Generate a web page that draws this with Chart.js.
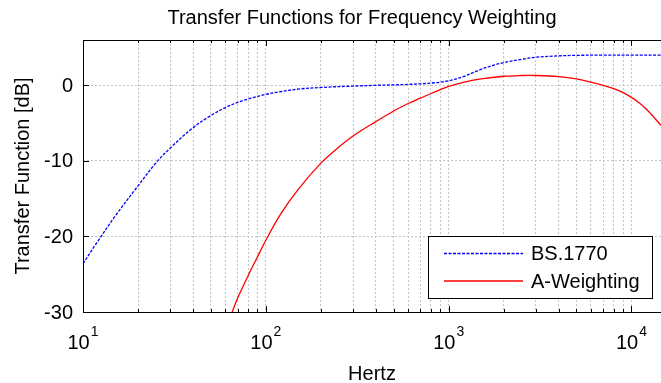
<!DOCTYPE html>
<html>
<head>
<meta charset="utf-8">
<script src="https://cdn.jsdelivr.net/npm/chart.js@4/dist/chart.umd.min.js"></script>
<style>
  html, body { margin: 0; padding: 0; background: #fff; }
  canvas { display: block; }
</style>
</head>
<body>
<canvas id="c" width="661" height="383"></canvas>
<script>
// ---- data ----
const titleText = 'Transfer Functions for Frequency Weighting';
const xAxisTitle = 'Hertz';
const yAxisTitle = 'Transfer Function [dB]';
const seriesNames = ['BS.1770', 'A-Weighting'];

const bsFreq = [10, 12, 15, 20, 25, 30, 40, 50, 60, 70, 80, 100, 120, 150, 200, 300, 400, 500, 600, 700, 800, 900, 1000, 1200, 1500, 1750, 2000, 2500, 3000, 4000, 5000, 7000, 10000, 14500];
const bsDb   = [-23.6, -20.7, -17.3, -13.3, -10.3, -8.3, -5.6, -4.0, -2.95, -2.27, -1.8, -1.2, -0.85, -0.5, -0.28, -0.1, 0.0, 0.06, 0.12, 0.2, 0.3, 0.42, 0.6, 1.15, 2.1, 2.65, 3.0, 3.45, 3.72, 3.9, 3.97, 4.0, 4.0, 4.0];

const awFreq = [60, 65.5, 70, 80, 90, 100, 120, 150, 200, 250, 300, 400, 500, 600, 700, 800, 900, 1000, 1200, 1500, 2000, 2500, 3000, 4000, 5000, 6000, 7000, 8000, 9000, 10000, 11000, 12000, 13000, 14500];
const awDb   = [-32.8, -30.0, -28.2, -25.2, -22.7, -20.5, -17.1, -13.8, -10.3, -8.2, -6.7, -4.8, -3.4, -2.4, -1.7, -1.08, -0.58, -0.15, 0.4, 0.85, 1.2, 1.3, 1.3, 1.15, 0.85, 0.42, 0.0, -0.45, -0.97, -1.6, -2.3, -3.1, -4.0, -5.3];

const xMajorTicks = [10, 100, 1000, 10000];
const xTickBase = ['10', '10', '10', '10'];
const xTickExp = ['1', '2', '3', '4'];
const xMinorTicks = [20, 30, 40, 50, 60, 70, 80, 90, 200, 300, 400, 500, 600, 700, 800, 900, 2000, 3000, 4000, 5000, 6000, 7000, 8000, 9000];
const yTicks = [-30, -20, -10, 0];
const yTickLabels = ['-30', '-20', '-10', '0'];
const xRange = [10, 14500];
const yRange = [-30, 6];

// ---- chart ----
const FONT = '"Liberation Sans", Arial, Helvetica, sans-serif';
const toPts = (xs, ys) => xs.map((x, i) => ({ x: x, y: ys[i] }));

const decor = {
  id: 'decor',
  afterDraw(chart) {
    const ctx = chart.ctx;
    const a = chart.chartArea;
    const xs = chart.scales.x, ys = chart.scales.y;
    ctx.save();
    ctx.strokeStyle = '#000';
    ctx.lineWidth = 1;
    ctx.setLineDash([]);
    ctx.beginPath();
    ctx.moveTo(a.left + 0.5, a.top + 0.5); ctx.lineTo(a.right, a.top + 0.5);
    ctx.moveTo(a.left + 0.5, a.top); ctx.lineTo(a.left + 0.5, a.bottom + 0.5);
    ctx.moveTo(a.left, a.bottom + 0.5); ctx.lineTo(a.right, a.bottom + 0.5);
    ctx.stroke();
    ctx.beginPath();
    xMinorTicks.forEach(v => {
      const px = Math.round(xs.getPixelForValue(v)) + 0.5;
      ctx.moveTo(px, a.bottom); ctx.lineTo(px, a.bottom - 3);
      ctx.moveTo(px, a.top); ctx.lineTo(px, a.top + 3);
    });
    xMajorTicks.forEach(v => {
      const px = Math.round(xs.getPixelForValue(v)) + 0.5;
      ctx.moveTo(px, a.bottom); ctx.lineTo(px, a.bottom - 6);
      ctx.moveTo(px, a.top); ctx.lineTo(px, a.top + 6);
    });
    yTicks.forEach(v => {
      const py = Math.round(ys.getPixelForValue(v)) + 0.5;
      ctx.moveTo(a.left, py); ctx.lineTo(a.left + 6, py);
    });
    ctx.stroke();

    ctx.fillStyle = '#000';
    ctx.font = '20px ' + FONT;
    ctx.textAlign = 'right';
    ctx.textBaseline = 'middle';
    yTicks.forEach((v, i) => {
      ctx.fillText(yTickLabels[i], a.left - 10, ys.getPixelForValue(v) + 1);
    });
    xMajorTicks.forEach((v, i) => {
      const px = xs.getPixelForValue(v);
      ctx.font = '20px ' + FONT;
      const wb = ctx.measureText(xTickBase[i]).width;
      ctx.font = '14px ' + FONT;
      const we = ctx.measureText(xTickExp[i]).width;
      const x0 = px - (wb + we + 1) / 2;
      ctx.textAlign = 'left';
      ctx.textBaseline = 'alphabetic';
      ctx.font = '20px ' + FONT;
      ctx.fillText(xTickBase[i], x0, 349);
      ctx.font = '14px ' + FONT;
      ctx.fillText(xTickExp[i], x0 + wb + 1, 336);
    });
    ctx.font = '20px ' + FONT;
    ctx.textAlign = 'center';
    ctx.textBaseline = 'alphabetic';
    ctx.fillText(titleText, 362, 24);
    ctx.fillText(xAxisTitle, 372, 380);
    ctx.save();
    ctx.translate(29, 176);
    ctx.rotate(-Math.PI / 2);
    ctx.fillText(yAxisTitle, 0, 0);
    ctx.restore();

    const lx = 428, ly = 236, lw = 224, lh = 62;
    ctx.fillStyle = '#fff';
    ctx.fillRect(lx, ly, lw, lh);
    ctx.strokeStyle = '#000';
    ctx.lineWidth = 1;
    ctx.strokeRect(lx + 0.5, ly + 0.5, lw, lh);
    const rows = [
      { y: 253.5, color: '#0000ff', dash: [3, 1.5], name: seriesNames[0] },
      { y: 281, color: '#ff0000', dash: [], name: seriesNames[1] }
    ];
    rows.forEach(r => {
      ctx.strokeStyle = r.color;
      ctx.lineWidth = 1.3;
      ctx.setLineDash(r.dash);
      ctx.beginPath();
      ctx.moveTo(444, r.y); ctx.lineTo(523, r.y);
      ctx.stroke();
      ctx.setLineDash([]);
      ctx.fillStyle = '#000';
      ctx.font = '20px ' + FONT;
      ctx.textAlign = 'left';
      ctx.textBaseline = 'middle';
      ctx.fillText(r.name, 531, r.y + 1);
    });
    ctx.restore();
  }
};

new Chart(document.getElementById('c'), {
  type: 'line',
  data: {
    datasets: [
      {
        label: seriesNames[0],
        data: toPts(bsFreq, bsDb),
        borderColor: '#0000ff',
        borderWidth: 1.3,
        borderDash: [3, 1.5],
        pointRadius: 0,
        fill: false,
        tension: 0.35
      },
      {
        label: seriesNames[1],
        data: toPts(awFreq, awDb),
        borderColor: '#ff0000',
        borderWidth: 1.3,
        pointRadius: 0,
        fill: false,
        tension: 0.35
      }
    ]
  },
  options: {
    responsive: false,
    animation: false,
    devicePixelRatio: 1,
    layout: { padding: { top: 40, left: 0, right: 0, bottom: 0 } },
    plugins: { legend: { display: false }, title: { display: false }, tooltip: { enabled: false } },
    scales: {
      x: {
        type: 'logarithmic',
        min: xRange[0],
        max: xRange[1],
        afterBuildTicks: (s) => { s.ticks = xMajorTicks.concat(xMinorTicks).sort((p, q) => p - q).map(v => ({ value: v })); },
        afterFit: (s) => { s.height = 71; },
        ticks: { display: false },
        grid: { color: '#c4c4c4', lineWidth: 1, drawTicks: false },
        border: { display: false, dash: [2, 2] }
      },
      y: {
        type: 'linear',
        min: yRange[0],
        max: yRange[1],
        afterBuildTicks: (s) => { s.ticks = yTicks.map(v => ({ value: v })); },
        afterFit: (s) => { s.width = 83; },
        ticks: { display: false },
        grid: { color: '#c4c4c4', lineWidth: 1, drawTicks: false },
        border: { display: false, dash: [2, 2] }
      }
    }
  },
  plugins: [decor]
});
</script>
</body>
</html>
